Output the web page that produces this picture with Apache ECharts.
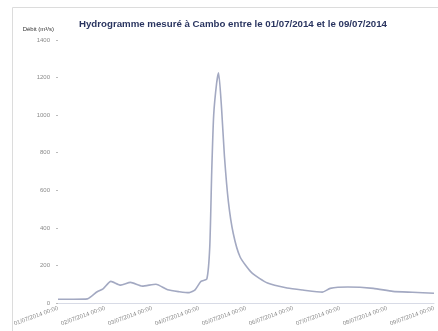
<!DOCTYPE html>
<html>
<head>
<meta charset="utf-8">
<script src="https://cdn.jsdelivr.net/npm/echarts@6/dist/echarts.min.js"></script>
<style>html,body{margin:0;padding:0;background:#fff}#c{width:438px;height:331px}</style>
</head>
<body>
<div id="c"></div>
<script>
// hours since 01/07/2014 00:00
var hours = [0, 8, 15, 20, 23, 27, 32, 37, 43, 50, 56, 62, 67, 70, 73, 76, 77.5, 78.5, 79.5, 81, 82, 83.5, 85, 87, 89.5, 93, 99, 107, 117, 125, 135, 139, 148, 161, 171, 181, 192];
var debit = [20, 20, 22, 60, 75, 115, 95, 110, 90, 100, 70, 60, 55, 70, 115, 128, 300, 700, 1000, 1170, 1225, 1040, 780, 540, 370, 245, 160, 106, 80, 69, 58, 78, 85, 78, 62, 57, 52];
var xTickLabels = ["01/07/2014 00:00","02/07/2014 00:00","03/07/2014 00:00","04/07/2014 00:00","05/07/2014 00:00","06/07/2014 00:00","07/07/2014 00:00","08/07/2014 00:00","09/07/2014 00:00"];
var yTicks = [0, 200, 400, 600, 800, 1000, 1200, 1400];

var chart = echarts.init(document.getElementById('c'));
chart.setOption({
  animation: false,
  backgroundColor: '#fff',
  graphic: [{
    type: 'rect', left: 10, top: 5, shape: {width: 440, height: 340},
    style: {fill: 'none', stroke: '#dcdcdc', lineWidth: 1}, silent: true
  }],
  title: {
    text: 'Hydrogramme mesuré à Cambo entre le 01/07/2014 et le 09/07/2014',
    left: 228, top: 14, textAlign: 'center',
    textStyle: {fontFamily: 'Liberation Sans', fontSize: 9.7, fontWeight: 'bold', color: '#2a3560'}
  },
  grid: {left: 58, right: 4, top: 40, bottom: 28},
  xAxis: {
    type: 'value', min: 0, max: 192, interval: 24,
    axisLine: {show: true, lineStyle: {color: '#d8dbe6'}},
    axisTick: {show: false},
    splitLine: {show: false},
    axisLabel: {
      rotate: 20, fontSize: 6, color: '#8a8a8a', margin: 5,
      fontFamily: 'Liberation Sans',
      formatter: function (v) { return xTickLabels[Math.round(v / 24)]; }
    }
  },
  yAxis: {
    type: 'value', min: yTicks[0], max: yTicks[yTicks.length - 1], interval: 200,
    name: 'Débit (m³/s)', nameLocation: 'end', nameGap: 8,
    nameTextStyle: {fontSize: 6, color: '#333', fontFamily: 'Liberation Sans', align: 'right', padding: [0, 4, 0, 0]},
    axisLine: {show: false},
    axisTick: {show: true, length: 2, lineStyle: {color: '#bbb'}},
    splitLine: {show: false},
    axisLabel: {fontSize: 6, color: '#8a8a8a', margin: 8, fontFamily: 'Liberation Sans',
      formatter: function (v) { return String(v); }}
  },
  series: [{
    type: 'line',
    data: hours.map(function (h, i) { return [h, debit[i]]; }),
    smooth: 0.2,
    symbol: 'none',
    lineStyle: {color: '#a3a9c2', width: 1.6}
  }]
});
</script>
</body>
</html>
